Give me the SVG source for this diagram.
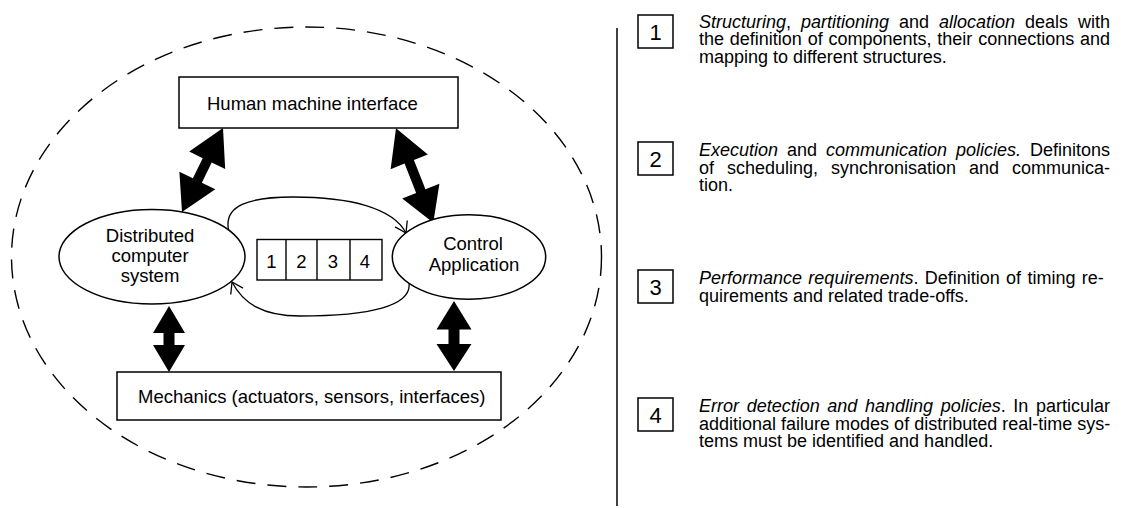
<svg xmlns="http://www.w3.org/2000/svg" width="1125" height="508" viewBox="0 0 1125 508">
  <style>
    text { font-family: "Liberation Sans", Arial, sans-serif; fill: #000; }
    .lbl { font-size: 18.5px; }
    .mid { text-anchor: middle; }
    .para { font-size: 18px; }
    .num { font-size: 22px; text-anchor: middle; }
    .it { font-style: italic; }
    .box { fill: #fff; stroke: #000; stroke-width: 1.5; }
    .cell { fill: none; stroke: #000; stroke-width: 1.4; }
    .flow { fill: none; stroke: #000; stroke-width: 1.3; }
    .fat { fill: #000; stroke: none; }
  </style>
  <defs>
    <marker id="open" viewBox="0 -8 14 16" refX="12" refY="0" markerWidth="14" markerHeight="16" markerUnits="userSpaceOnUse" orient="auto">
      <path d="M1.5,-6.9 L12,0 L1.5,6.9" fill="none" stroke="#000" stroke-width="1.3"/>
    </marker>
  </defs>

  <rect width="1125" height="508" fill="#fff"/>

  <!-- system boundary -->
  <ellipse id="boundary" cx="306.5" cy="257" rx="295" ry="230" fill="none" stroke="#000" stroke-width="1.4" stroke-dasharray="19 12"/>

  <!-- divider between diagram and legend -->
  <line id="divider" x1="617" y1="28" x2="617" y2="506" stroke="#000" stroke-width="1.5"/>

  <!-- connectors -->
  <g id="connectors">
    <!-- HMI <-> distributed computer system -->
    <polygon class="fat" points="223,128 225.18,169.11 211.70,162.53 201.84,182.75 215.32,189.33 182,212 179.38,171.79 192.86,178.37 202.72,158.15 189.24,151.57"/>
    <!-- HMI <-> control application -->
    <polygon class="fat" points="396,128.3 427.83,154.43 413.88,159.94 425.45,189.24 439.40,183.73 433.3,222.7 402.20,198.43 416.15,192.92 404.58,163.62 390.63,169.13"/>
    <!-- distributed computer system <-> mechanics -->
    <polygon class="fat" points="169,306 185,333 174.5,333 174.5,345 185,345 169,372 153,345 163.5,345 163.5,333 153,333"/>
    <!-- control application <-> mechanics -->
    <polygon class="fat" points="454,301 471.5,329.5 459.5,329.5 459.5,344 471.5,344 454,371 436.5,344 448.5,344 448.5,329.5 436.5,329.5"/>
    <!-- cycle between computer system and application -->
    <path class="flow" d="M229,232 C222,205 250,197 293,197 C350,197 393,208 406,233" marker-end="url(#open)"/>
    <path class="flow" d="M409,283 C412,306 370,316 300,316 C262,316 243,303 232,282" marker-end="url(#open)"/>
  </g>

  <g id="hmi">
    <rect class="box" x="179" y="77" width="279" height="51"/>
    <text class="lbl" x="207" y="110">Human machine interface</text>
  </g>

  <g id="dcs">
    <ellipse class="box" cx="152" cy="256.7" rx="93" ry="47.3"/>
    <text class="lbl mid" x="150" y="242">Distributed</text>
    <text class="lbl mid" x="150" y="262">computer</text>
    <text class="lbl mid" x="150" y="282">system</text>
  </g>

  <g id="control">
    <ellipse class="box" cx="469" cy="257" rx="76.7" ry="42.2"/>
    <text class="lbl mid" x="473" y="250">Control</text>
    <text class="lbl mid" x="474" y="271">Application</text>
  </g>

  <g id="aspects">
    <rect class="cell" x="257" y="239.5" width="125" height="40.5"/>
    <line class="cell" x1="286" y1="239.5" x2="286" y2="280"/>
    <line class="cell" x1="317" y1="239.5" x2="317" y2="280"/>
    <line class="cell" x1="350" y1="239.5" x2="350" y2="280"/>
    <text class="lbl mid" x="271.5" y="267.5">1</text>
    <text class="lbl mid" x="301.5" y="267.5">2</text>
    <text class="lbl mid" x="333" y="267.5">3</text>
    <text class="lbl mid" x="365" y="267.5">4</text>
  </g>

  <g id="mechanics">
    <rect class="box" x="117" y="372" width="384" height="48"/>
    <text class="lbl" x="138" y="403">Mechanics (actuators, sensors, interfaces)</text>
  </g>

  <!-- legend -->
  <g id="legend1">
    <rect class="box" x="638" y="15" width="35" height="33"/>
    <text class="num" x="655.5" y="39.5">1</text>
    <text class="para" x="699" y="27.5" word-spacing="4.96"><tspan class="it">Structuring</tspan>, <tspan class="it">partitioning</tspan> and <tspan class="it">allocation</tspan> deals with</text>
    <text class="para" x="699" y="45" word-spacing="0.8">the definition of components, their connections and</text>
    <text class="para" x="699" y="62.5">mapping to different structures.</text>
  </g>

  <g id="legend2">
    <rect class="box" x="638" y="142" width="35" height="33"/>
    <text class="num" x="655.5" y="166.5">2</text>
    <text class="para" x="699" y="156" word-spacing="3.95"><tspan class="it">Execution</tspan> and <tspan class="it">communication policies.</tspan> Definitons</text>
    <text class="para" x="699" y="173.5" word-spacing="7.95">of scheduling, synchronisation and communica-</text>
    <text class="para" x="699" y="191">tion.</text>
  </g>

  <g id="legend3">
    <rect class="box" x="638" y="270" width="35" height="33"/>
    <text class="num" x="655.5" y="294.5">3</text>
    <text class="para" x="699" y="284" word-spacing="1.32"><tspan class="it">Performance requirements</tspan>. Definition of timing re-</text>
    <text class="para" x="699" y="301.5">quirements and related trade-offs.</text>
  </g>

  <g id="legend4">
    <rect class="box" x="638" y="398" width="35" height="33"/>
    <text class="num" x="655.5" y="422.5">4</text>
    <text class="para" x="699" y="412" word-spacing="2.63"><tspan class="it">Error detection and handling policies</tspan>. In particular</text>
    <text class="para" x="699" y="429.5">additional failure modes of distributed real-time sys-</text>
    <text class="para" x="699" y="447">tems must be identified and handled.</text>
  </g>
</svg>
